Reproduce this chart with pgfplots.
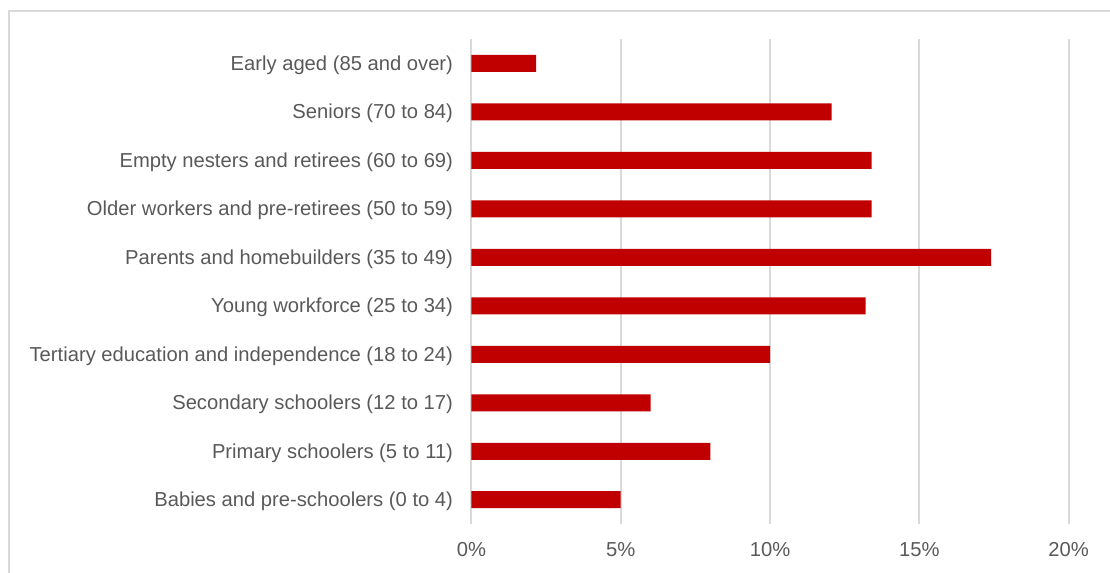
\documentclass[border=0pt]{standalone}
\usepackage{fontspec}
\setmainfont{Liberation Sans}
\usepackage{pgfplots}
\pgfplotsset{compat=1.18}
\definecolor{barred}{HTML}{C00000}
\definecolor{txt}{HTML}{595959}
\definecolor{gridc}{HTML}{D9D9D9}
\begin{document}
\begin{tikzpicture}
\useasboundingbox (-235.7pt,-24.5pt) rectangle (319.3pt,262pt);
\draw[gridc, line width=0.9pt] (340pt,256.5pt) -- (-231.2pt,256.5pt) -- (-231.2pt,-40pt);
\begin{axis}[
  at={(0pt,0pt)}, anchor=south west,
  scale only axis,
  width=298.65pt, height=242.5pt,
  xbar, bar width=8.5pt,
  xmin=0, xmax=20, ymin=-0.5, ymax=9.5,
  xtick={0,5,10,15,20},
  xticklabels={0\%,5\%,10\%,15\%,20\%},
  ytick={0,1,2,3,4,5,6,7,8,9},
  yticklabels={Babies and pre-schoolers (0 to 4),
    Primary schoolers (5 to 11),
    Secondary schoolers (12 to 17),
    Tertiary education and independence (18 to 24),
    Young workforce (25 to 34),
    Parents and homebuilders (35 to 49),
    Older workers and pre-retirees (50 to 59),
    Empty nesters and retirees (60 to 69),
    Seniors (70 to 84),
    Early aged (85 and over)},
  axis line style={draw=none},
  major tick length=0pt,
  xmajorgrids,
  grid style={gridc, line width=1pt},
  tick label style={font=\fontsize{10.1}{12}\selectfont, text=txt},
  /pgf/number format/assume math mode=true,
  yticklabel style={anchor=east, inner sep=0pt, xshift=-9pt, yshift=-1pt},
  xticklabel style={anchor=center, inner sep=0pt, yshift=-13pt},
  clip=false,
]
\addplot[fill=barred, draw=none] coordinates {
  (5.0,0) (8.0,1) (6.0,2) (10.0,3) (13.2,4) (17.4,5) (13.4,6) (13.4,7) (12.06,8) (2.17,9)
};
\end{axis}
\end{tikzpicture}
\end{document}
